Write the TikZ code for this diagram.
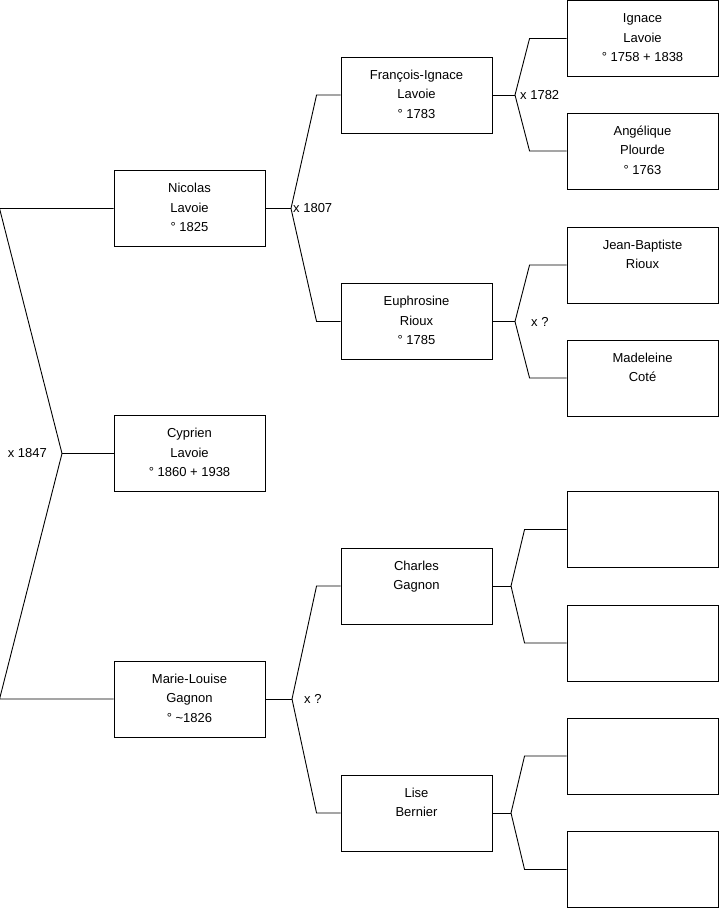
\documentclass[tikz,border=0pt]{standalone}
\usepackage{fontspec}
\setmainfont{Liberation Sans}
\usepackage{tikz}
\usetikzlibrary{positioning,calc}
\tikzset{
  fam/person/.style={draw, line width=0.9pt, minimum width=151pt, minimum height=76pt, inner sep=0pt, align=center, font=\fontsize{13}{19.5}\selectfont},
  fam/empty/.style={fam/person},
  fam/line/.style={line width=0.9pt},
  fam/union/.style={font=\fontsize{13}{15}\selectfont, inner sep=0pt}
}
\newcommand{\who}[3]{\strut#1\\#2\\\strut#3}

\begin{document}
\begin{tikzpicture}[x=1pt, y=-1pt]
\useasboundingbox (0,0) rectangle (719,908);
% generation 1
\node[fam/person] (cyprien) at (189.5,453.5) {\who{Cyprien}{Lavoie}{° 1860 + 1938}};
% generation 2
\node[fam/person] (nicolas) at (189.5,208.5) {\who{Nicolas}{Lavoie}{° 1825}};
\node[fam/person] (marie) at (189.5,699) {\who{Marie-Louise}{Gagnon}{° \textasciitilde1826}};
% generation 3
\node[fam/person] (francois) at (416.5,95) {\who{François-Ignace}{Lavoie}{° 1783}};
\node[fam/person] (euphrosine) at (416.5,321.5) {\who{Euphrosine}{Rioux}{° 1785}};
\node[fam/person] (charles) at (416.5,586) {\who{Charles}{Gagnon}{}};
\node[fam/person] (lise) at (416.5,813) {\who{Lise}{Bernier}{}};
% generation 4
\node[fam/person] (ignace) at (642.5,38.5) {\who{Ignace}{Lavoie}{° 1758 + 1838}};
\node[fam/person] (angelique) at (642.5,151) {\who{Angélique}{Plourde}{° 1763}};
\node[fam/person] (jeanbaptiste) at (642.5,265) {\who{Jean-Baptiste}{Rioux}{}};
\node[fam/person] (madeleine) at (642.5,378) {\who{Madeleine}{Coté}{}};
\node[fam/empty] (ch-father) at (642.5,529.5) {};
\node[fam/empty] (ch-mother) at (642.5,643) {};
\node[fam/empty] (li-father) at (642.5,756) {};
\node[fam/empty] (li-mother) at (642.5,869.5) {};

% unions
\coordinate (u1847) at (62,453.5);
\coordinate (u1807) at (291,208.5);
\coordinate (ums) at (292,699);
\coordinate (u1782) at (515,95);
\coordinate (urx) at (515,321.5);
\coordinate (ugc) at (511,586);
\coordinate (ube) at (511,813);
\node[fam/union, anchor=east] (l1847) at ($(u1847)+(-15,0)$) {x 1847};
\node[fam/union, anchor=west] (l1807) at ($(u1807)+(2,0)$) {x 1807};
\node[fam/union, anchor=west] (lms) at ($(ums)+(12,0)$) {x ?};
\node[fam/union, anchor=west] (l1782) at ($(u1782)+(5,0)$) {x 1782};
\node[fam/union, anchor=west] (lrx) at ($(urx)+(16,0)$) {x ?};

\draw[fam/line] (nicolas.west) -- ++(-114,0) -- (u1847) -- ($(marie.west)+(-114,0)$) -- (marie.west);
\draw[fam/line] (u1847) -- (cyprien.west);
\draw[fam/line] (nicolas.east) -- (u1807);
\draw[fam/line] (u1807) -- ($(francois.west)+(-24,0)$) -- (francois.west);
\draw[fam/line] (u1807) -- ($(euphrosine.west)+(-24,0)$) -- (euphrosine.west);
\draw[fam/line] (marie.east) -- (ums);
\draw[fam/line] (ums) -- ($(charles.west)+(-24,0)$) -- (charles.west);
\draw[fam/line] (ums) -- ($(lise.west)+(-24,0)$) -- (lise.west);
\draw[fam/line] (francois.east) -- (u1782);
\draw[fam/line] (u1782) -- ($(ignace.west)+(-37,0)$) -- (ignace.west);
\draw[fam/line] (u1782) -- ($(angelique.west)+(-37,0)$) -- (angelique.west);
\draw[fam/line] (euphrosine.east) -- (urx);
\draw[fam/line] (urx) -- ($(jeanbaptiste.west)+(-37,0)$) -- (jeanbaptiste.west);
\draw[fam/line] (urx) -- ($(madeleine.west)+(-37,0)$) -- (madeleine.west);
\draw[fam/line] (charles.east) -- (ugc);
\draw[fam/line] (ugc) -- ($(ch-father.west)+(-42,0)$) -- (ch-father.west);
\draw[fam/line] (ugc) -- ($(ch-mother.west)+(-42,0)$) -- (ch-mother.west);
\draw[fam/line] (lise.east) -- (ube);
\draw[fam/line] (ube) -- ($(li-father.west)+(-42,0)$) -- (li-father.west);
\draw[fam/line] (ube) -- ($(li-mother.west)+(-42,0)$) -- (li-mother.west);
\end{tikzpicture}
\end{document}
